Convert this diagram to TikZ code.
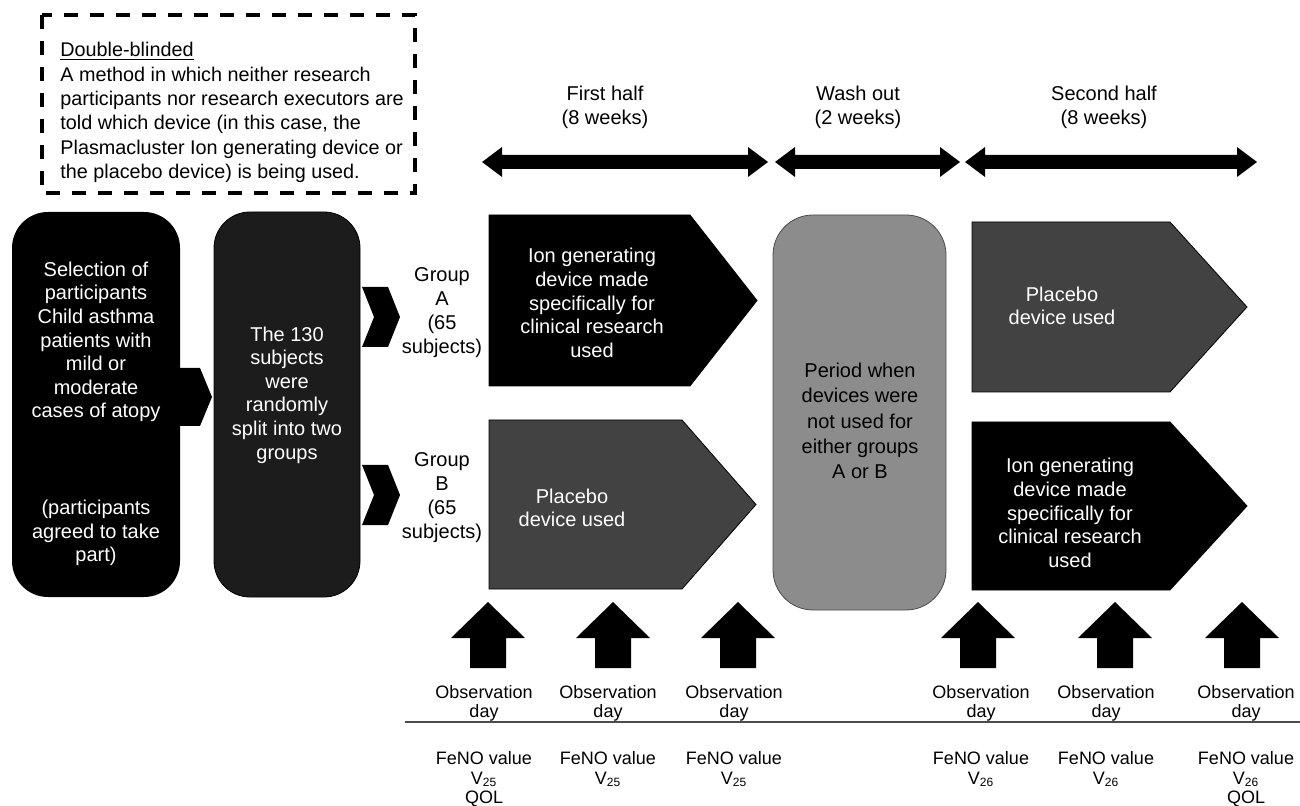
\documentclass[tikz,border=0pt]{standalone}
\usepackage{fontspec}
\setmainfont{Liberation Sans}
\usepackage{tikz}
\usetikzlibrary{positioning}
\definecolor{darkbox}{RGB}{28, 28, 28}
\definecolor{placebo}{RGB}{66, 66, 66}
\definecolor{wash}{RGB}{140, 140, 140}

\begin{document}
\begin{tikzpicture}[x=0.5pt, y=-0.5pt,
  lbl/.style={font=\fontsize{10}{12}\selectfont, align=center, inner sep=0},
  boxtxt/.style={font=\fontsize{10}{11.8}\selectfont, align=center, text=white, inner sep=0},
  small/.style={font=\fontsize{9}{9.6}\selectfont, align=center, inner sep=0, anchor=north},
]

  \useasboundingbox (0,0) rectangle (1300,806);

  % note on blinding
  \draw[line width=2pt, dash pattern=on 7pt off 6pt] (42,15) rectangle (415,193);
  \node[anchor=north west, align=left, inner sep=0,
        font=\fontsize{9.9}{12.2}\selectfont] (note) at (60,42)
    {\underline{Double-blinded}\\A method in which neither research\\participants nor research executors are\\told which device (in this case, the\\Plasmacluster Ion generating device or\\the placebo device) is being used.};

  % periods
  \foreach \xa/\xb in {482/768, 775/960, 965/1257} {
    \fill (\xa,162) -- (\xa+20,147) -- (\xa+20,155) -- (\xb-20,155) -- (\xb-20,147)
      -- (\xb,162) -- (\xb-20,177) -- (\xb-20,169) -- (\xa+20,169) -- (\xa+20,177) -- cycle;
  }
  \node[lbl] (first) at (605,107) {First half\\(8 weeks)};
  \node[lbl] (washlbl) at (858,107) {Wash out\\(2 weeks)};
  \node[lbl] (second) at (1104,107) {Second half\\(8 weeks)};

  % selection and split
  \fill[black, rounded corners=18] (12,212) rectangle (180,597);
  \node[boxtxt] (select) at (96,342)
    {Selection of\\participants\\Child asthma\\patients with\\mild or\\moderate\\cases of atopy};
  \node[boxtxt] (agreed) at (96,533) {(participants\\agreed to take\\part)};

  \fill (178,368) -- (200,368) -- (212,397) -- (200,426) -- (178,426) -- cycle;

  \filldraw[fill=darkbox, draw=black, rounded corners=18] (214,212) rectangle (360,597);
  \node[boxtxt] (split) at (287,395)
    {The 130\\subjects\\were\\randomly\\split into two\\groups};

  \foreach \ya in {287, 465} {
    \fill (362,\ya) -- (388,\ya) -- (400,\ya+30) -- (388,\ya+60) -- (362,\ya+60)
      -- (374,\ya+30) -- cycle;
  }
  \node[lbl] (grpA) at (442,313) {Group\\A\\(65\\subjects)};
  \node[lbl] (grpB) at (442,498) {Group\\B\\(65\\subjects)};

  % device periods
  \foreach \xa/\xb/\xc/\ya/\yb/\fc in {489/690/757/215/386/black, 489/682/756/420/589/placebo,
      972/1170/1247/222/392/placebo, 972/1170/1247/422/590/black} {
    \filldraw[fill=\fc, draw=black] (\xa,\ya) -- (\xb,\ya) -- (\xc,{(\ya+\yb)/2})
      -- (\xb,\yb) -- (\xa,\yb) -- cycle;
  }
  \node[boxtxt] (ionA) at (592,303)
    {Ion generating\\device made\\specifically for\\clinical research\\used};
  \node[boxtxt] (placA) at (572,508) {Placebo\\device used};
  \node[boxtxt] (placB) at (1062,306) {Placebo\\device used};
  \node[boxtxt] (ionB) at (1070,513)
    {Ion generating\\device made\\specifically for\\clinical research\\used};

  \filldraw[fill=wash, draw=gray!60!black, rounded corners=20] (773,215) rectangle (946,610);
  \node[lbl, font=\fontsize{10}{12.6}\selectfont] (period) at (860,421)
    {Period when\\devices were\\not used for\\either groups\\A or B};

  % observation days
  \foreach \cx/\lx/\num/\q [count=\i] in {488/484/25/{\\QOL}, 613/608/25/\relax,
      738/734/25/\relax, 978/981/26/\relax, 1115/1106/26/\relax, 1242/1246/26/{\\QOL}} {
    \fill (\cx,602) -- (\cx+37,638) -- (\cx+18,638) -- (\cx+18,668) -- (\cx-18,668)
      -- (\cx-18,638) -- (\cx-37,638) -- cycle;
    \node[small] (obs\i) at (\lx,685) {Observation\\day};
    \node[small, font=\fontsize{9}{9.8}\selectfont] (feno\i) at (\lx,751)
      {FeNO value\\V\textsubscript{\num}\q};
  }
  \draw[gray!60!black, line width=0.6pt] (405,722) -- (1300,722);

\end{tikzpicture}
\end{document}
